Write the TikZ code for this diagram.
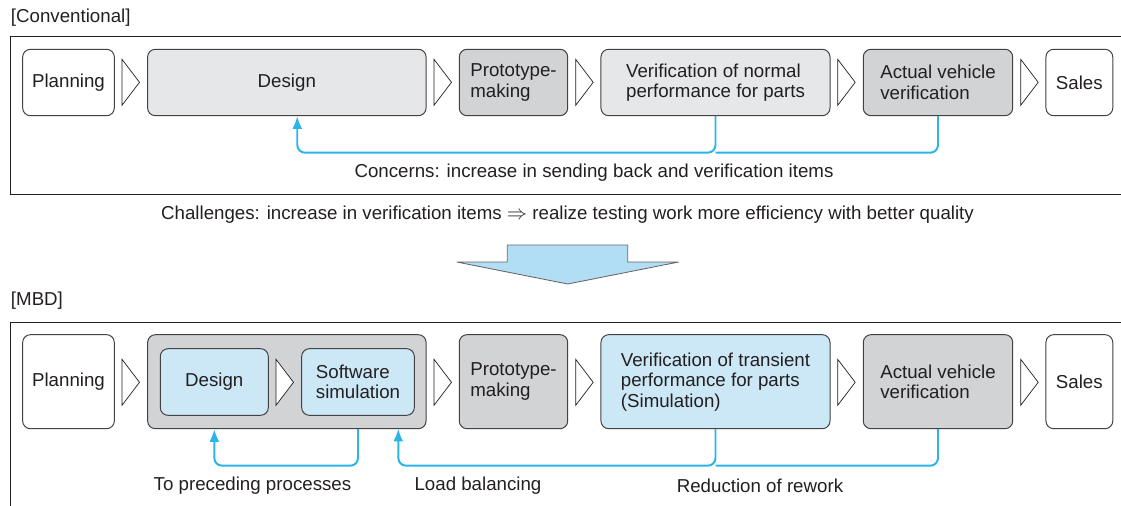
\documentclass[tikz,border=0pt]{standalone}
\usepackage{fontspec}
\setmainfont{Liberation Sans}
\usetikzlibrary{arrows.meta,positioning,calc}
\definecolor{lgray}{HTML}{E6E7E8}
\definecolor{dgray}{HTML}{D1D3D4}
\definecolor{lblue}{HTML}{CCE8F7}
\definecolor{ablue}{HTML}{B2DEF5}
\definecolor{fbcyan}{HTML}{29B5E8}
\definecolor{ink}{HTML}{231F20}

\begin{document}
\begin{tikzpicture}[x=0.025cm,y=-0.025cm,
    font=\fontsize{13.3}{14.6}\selectfont, text=ink,
    stage/.style={draw=ink!85, line width=0.7pt, rounded corners=5.5pt, inner sep=0pt, align=left, minimum height=1.66cm},
    tall/.style={minimum height=2.35cm},
    chev/.style={draw=ink, fill=white, line width=0.5pt, line join=miter},
    fb/.style={draw=fbcyan, line width=1.4pt, rounded corners=5.5pt},
    outbox/.style={draw=ink, line width=0.7pt}]
    \useasboundingbox (0,0) rectangle (1121,506);

    % conventional flow
    \node[anchor=west, inner sep=0pt] (convL) at (10.7,18) {[Conventional]};
    \draw[outbox] (10.7,36.7) rectangle (1122,194);

    \node[stage, fill=white, minimum width=2.29cm] (planC) at (68.5,82.5) {Planning};
    \node[stage, fill=lgray, minimum width=6.96cm] (desC) at (286.85,82.5) {Design};
    \node[stage, fill=dgray, minimum width=2.71cm] (protC) at (513.5,82.5) {Prototype-\\making};
    \node[stage, fill=lgray, minimum width=5.725cm] (verC) at (715.5,82.5) {Verification of normal\\performance for parts};
    \node[stage, fill=dgray, minimum width=3.735cm] (actC) at (938,82.5) {Actual vehicle\\verification};
    \node[stage, fill=white, minimum width=1.67cm] (salesC) at (1079.35,82.5) {Sales};

    \foreach \a in {122,434,575.7,837.7,1020.7}
    {
        \draw[chev] (\a,59.3) -- (\a,105.3) -- (\a+17.5,82.3) -- cycle;
    }

    \coordinate (lvlA) at (0,152.7);
    \coordinate (desTip) at ([xshift=0.26cm]desC.south);
    \draw[fb, -{Latex[length=9pt,width=7pt]}] (verC.south) |- (desTip |- lvlA) -- (desTip);
    \draw[fb] (actC.south) |- (verC.south |- lvlA);

    \node (concern) at (594,172.5) {Concerns: increase in sending back and verification items};

    \node (challenge) at (567.5,215) {Challenges: increase in verification items $\Rightarrow$ realize testing work more efficiency with better quality};

    % big arrow down
    \draw[fill=ablue, draw=gray!80!black, line width=0.6pt]
        (507.3,245) -- (627.7,245) -- (627.7,262) -- (678.7,262) -- (567.7,284)
        -- (456.7,262) -- (507.3,262) -- cycle;

    % MBD flow
    \node[anchor=west, inner sep=0pt] (mbdL) at (10.7,301) {[MBD]};
    \draw[outbox] (10.7,520) |- (1122,322.7) -- (1122,520);

    \node[stage, tall, fill=white, minimum width=2.29cm] (planM) at (68.5,381.7) {Planning};
    \node[stage, tall, fill=dgray, minimum width=6.96cm] (contM) at (286.85,381.7) {};
    \node[stage, fill=lblue, minimum width=2.7cm, minimum height=1.665cm] (desM) at (214.3,382) {Design};
    \node[stage, fill=lblue, minimum width=2.815cm, minimum height=1.665cm] (simM) at (358,382) {Software\\simulation};
    \node[stage, tall, fill=dgray, minimum width=2.71cm] (protM) at (513.5,381.7) {Prototype-\\making};
    \node[stage, tall, fill=lblue, minimum width=5.725cm] (verM) at (715.5,381.7) {Verification of transient\\performance for parts\\(Simulation)};
    \node[stage, tall, fill=dgray, minimum width=3.735cm] (actM) at (938,381.7) {Actual vehicle\\verification};
    \node[stage, tall, fill=white, minimum width=1.67cm] (salesM) at (1079.35,381.7) {Sales};

    \foreach \a in {122,276,434,575.7,837.7,1020.7}
    {
        \draw[chev] (\a,359.3) -- (\a,405.3) -- (\a+17.5,382.3) -- cycle;
    }

    \coordinate (lvlB) at (0,465.7);
    \coordinate (ldTip) at (398.3,428.7);
    \draw[fb, -{Latex[length=9pt,width=7pt]}] (simM.south |- contM.south) |- (desM.south |- lvlB) -- (desM.south |- contM.south);
    \draw[fb, -{Latex[length=9pt,width=7pt]}] (verM.south) |- (ldTip |- lvlB) -- (ldTip);
    \draw[fb] (actM.south) |- (verM.south |- lvlB);

    \node (toPrec) at (252.5,486) {To preceding processes};
    \node (loadBal) at (478,486) {Load balancing};
    \node (rework) at (760,486) {Reduction of rework};
\end{tikzpicture}
\end{document}
